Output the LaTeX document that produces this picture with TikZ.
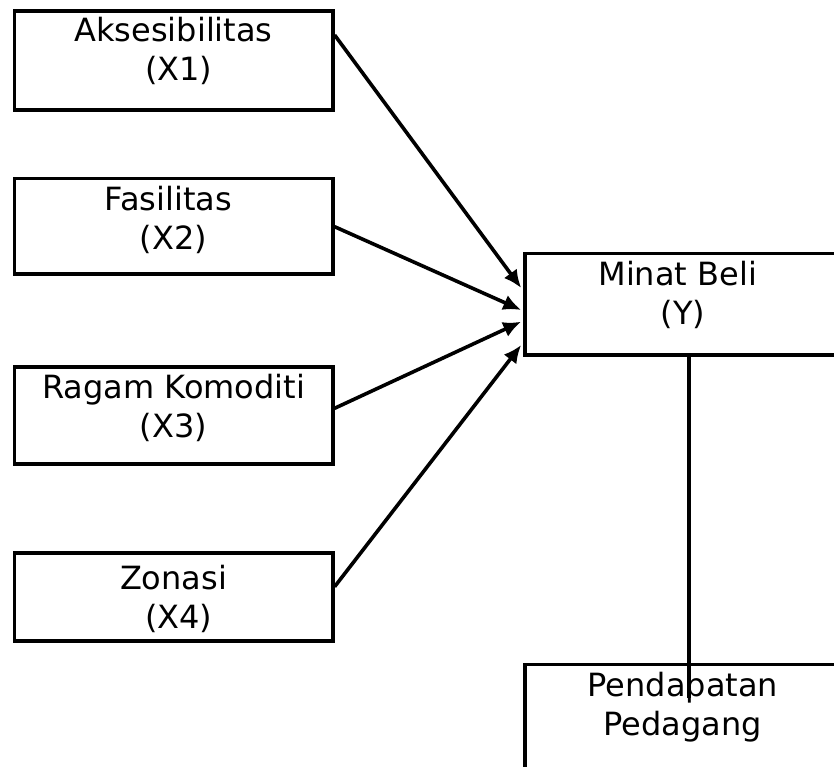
\documentclass[tikz,border=0pt]{standalone}
\usepackage{fontspec}
\setmainfont{DejaVu Sans}
\usetikzlibrary{arrows.meta}

\begin{document}
\begin{tikzpicture}[x=1pt,y=-1pt,
    box/.style={draw, line width=3.6pt, anchor=north west, align=center,
        inner xsep=0pt, text height=62.3pt,
        font=\fontsize{32}{39}\selectfont},
    link/.style={line width=3.6pt, -{Latex[length=18pt,width=16pt]}}]
    \useasboundingbox (0,0) rectangle (834,767);
    % variabel bebas
    \node [box, minimum width=318.5pt, inner ysep=6.5pt, text depth=23.2pt] (aks) at (12.5,9.5) {Aksesibilitas\\\mbox{\ (X1)}};
    \node [box, minimum width=318.5pt, inner ysep=8.3pt, text depth=16.4pt] (fas) at (12.5,176.7) {\mbox{Fasilitas\ }\\(X2)};
    \node [box, minimum width=318.5pt, inner ysep=8.3pt, text depth=18.4pt] (rag) at (12.5,365) {Ragam Komoditi\\(X3)};
    \node [box, minimum width=318.5pt, inner ysep=12.7pt, text depth=0pt] (zon) at (12.5,551.3) {Zonasi\\\mbox{\ (X4)}};
    % variabel terikat
    \node [box, minimum width=316pt, inner ysep=8.3pt, text depth=22.4pt] (minat) at (523,251.7) {\mbox{Minat Beli\ }\\(Y)};
    \node [box, minimum width=316pt, inner ysep=9.2pt, text depth=29.3pt] (pend) at (523,662.5) {Pendapatan\\Pedagang};
    % panah
    \draw [link] ([yshift=-25.5pt]aks.north east) -- ([xshift=-1.8pt,yshift=-36.3pt]minat.north west);
    \draw [link] ([yshift=-50pt]fas.north east) -- ([xshift=-1.8pt,yshift=-58.3pt]minat.north west);
    \draw [link] ([yshift=-43.3pt]rag.north east) -- ([xshift=-1.8pt,yshift=-70pt]minat.north west);
    \draw [link] ([yshift=-35.4pt]zon.north east) -- ([xshift=-1.8pt,yshift=-93.3pt]minat.north west);
    \draw [line width=3.6pt] ([xshift=6pt,yshift=3pt]minat.south) -- ([xshift=6pt,yshift=-35.5pt]pend.north);
\end{tikzpicture}
\end{document}
